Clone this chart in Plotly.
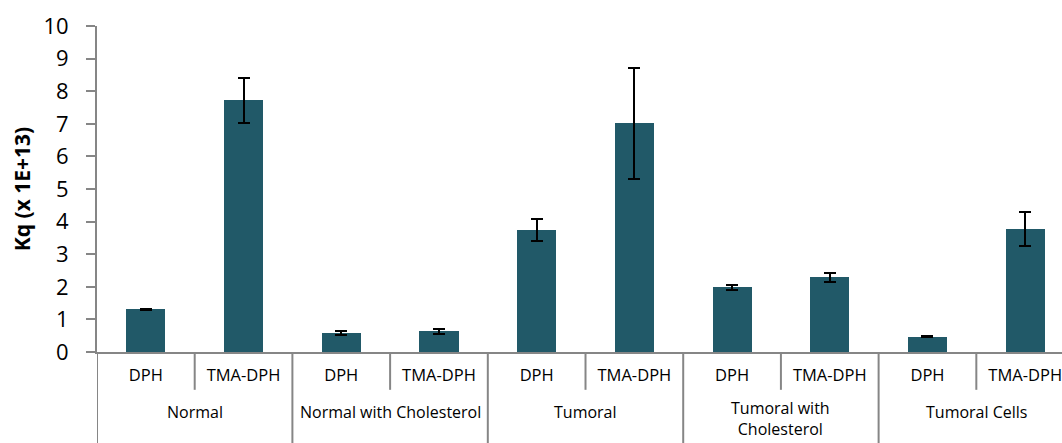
import plotly.graph_objects as go

# ---- data ----
groups = ["Normal", "Normal with Cholesterol", "Tumoral", "Tumoral with<br>Cholesterol", "Tumoral Cells"]
probes = ["DPH", "TMA-DPH"]
values = [1.31, 7.72, 0.58, 0.63, 3.74, 7.02, 1.99, 2.29, 0.47, 3.76]
errors = [0.02, 0.70, 0.05, 0.07, 0.33, 1.70, 0.08, 0.13, 0.02, 0.52]
y_ticks = [0, 1, 2, 3, 4, 5, 6, 7, 8, 9, 10]

FONT = "Open Sans"
AXIS_COL = "#868686"
BAR_COL = "#215968"

n_probe = len(probes)
xs = list(range(len(values)))
tick_text = [probes[i % n_probe] for i in xs]

fig = go.Figure()
fig.add_trace(go.Bar(
    x=xs, y=values, width=0.4,
    marker=dict(color=BAR_COL, line=dict(width=0)),
    error_y=dict(type="data", array=errors, visible=True,
                 color="black", thickness=2, width=6),
    showlegend=False,
))

# dividers between categories (axis decoration)
shapes = []
for gi in range(len(groups)):
    left = gi * n_probe - 0.5
    shapes.append(dict(type="line", xref="x", yref="paper", x0=left, x1=left,
                       y0=0, y1=-0.29, line=dict(color=AXIS_COL, width=2)))
    for k in range(1, n_probe):
        xb = gi * n_probe + k - 0.5
        shapes.append(dict(type="line", xref="x", yref="paper", x0=xb, x1=xb,
                           y0=0, y1=-0.116, line=dict(color=AXIS_COL, width=2)))

annotations = []
for gi, g in enumerate(groups):
    cx = gi * n_probe + (n_probe - 1) / 2
    if "<br>" in g:
        pos = dict(y=-0.274, yanchor="bottom")
    else:
        pos = dict(y=-0.148, yanchor="top")
    annotations.append(dict(x=cx, xref="x", yref="paper", text=g,
                            showarrow=False, xanchor="center", borderpad=0,
                            font=dict(family=FONT, size=16, color="black"), **pos))

fig.update_layout(
    width=1062, height=443,
    margin=dict(l=97, r=0, t=26, b=91),
    paper_bgcolor="white", plot_bgcolor="white",
    font=dict(family=FONT, color="black"),
    shapes=shapes, annotations=annotations,
    bargap=0,
    xaxis=dict(
        range=[-0.5, 9.377], tickmode="array", tickvals=xs, ticktext=tick_text,
        ticks="", showgrid=False, zeroline=False,
        showline=True, linecolor=AXIS_COL, linewidth=2,
        tickfont=dict(family=FONT, size=16.5, color="black"),
        ticklabelstandoff=7, ticklabeloverflow="allow",
    ),
    yaxis=dict(
        range=[0, 10], tickmode="array", tickvals=y_ticks,
        ticks="outside", ticklen=9, tickcolor=AXIS_COL, tickwidth=2,
        showgrid=False, zeroline=False,
        showline=True, linecolor=AXIS_COL, linewidth=2,
        tickfont=dict(family=FONT, size=22, color="black"),
        ticklabelstandoff=13,
        title=dict(text="<b>Kq (x 1E+13)</b>", font=dict(family=FONT, size=21, color="black"),
                   standoff=7),
        automargin=False,
    ),
)

fig.write_html("out.html")
